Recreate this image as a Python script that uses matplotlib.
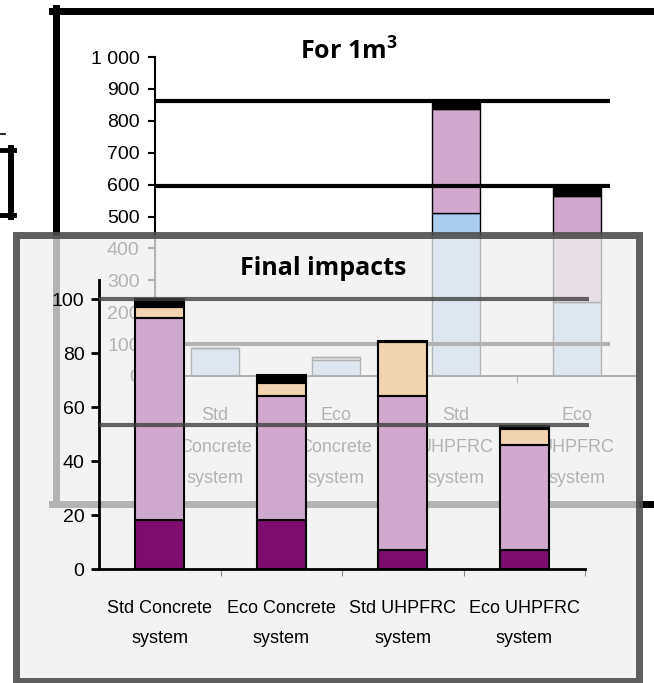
import matplotlib
matplotlib.use('Agg')
from matplotlib import pyplot as plt
from matplotlib.lines import Line2D
from matplotlib.patches import Rectangle

W, H = 654, 683

# pixel -> figure fraction
def fx(x):
    return x / W

def fy(y):
    return 1 - y / H

systems = ['Std Concrete\nsystem', 'Eco Concrete\nsystem', 'Std UHPFRC\nsystem', 'Eco UHPFRC\nsystem']
back_labels = ['Std\nConcrete\nsystem', 'Eco\nConcrete\nsystem', 'Std\nUHPFRC\nsystem', 'Eco\nUHPFRC\nsystem']

# back chart: for 1 m3
m3_blue = [87, 50, 510, 231]
m3_pink = [2, 9, 327, 332]
m3_black = [0, 0, 27, 31]
m3_lines = [100, 597, 863]
m3_ticks = list(range(0, 1001, 100))
m3_ticklabels = ['0', '100', '200', '300', '400', '500', '600', '700', '800', '900', '1 000']

# front chart: final impacts
fi_dark = [18, 18, 7, 7]
fi_pink = [75, 46, 57, 39]
fi_peach = [4, 5, 20, 6]
fi_black = [3, 3, 0.6, 1]
fi_lines = [53.5, 100]
fi_ticks = [0, 20, 40, 60, 80, 100]

c_blue = '#a9cdf0'
c_pink = '#d1a9cc'
c_peach = '#f3d4b0'
c_dark = '#7d0d6e'

boldf = ['Open Sans', 'DejaVu Sans']
plt.rcParams['font.family'] = ['Liberation Sans', 'DejaVu Sans']
plt.rcParams['mathtext.fontset'] = 'custom'
plt.rcParams['mathtext.bf'] = 'Open Sans:bold'

fig = plt.figure(figsize=(W / 100, H / 100), dpi=100)
fig.patch.set_facecolor('white')

# ---- back frame bits (behind everything)
fig.add_artist(Line2D([fx(52), 1.0], [fy(11), fy(11)], color='black', lw=5, zorder=0.5))
fig.add_artist(Line2D([fx(55.5), fx(55.5)], [fy(8), fy(503.5)], color='black', lw=5, zorder=0.5))
fig.add_artist(Line2D([fx(52), 1.0], [fy(503.5), fy(503.5)], color='black', lw=5, zorder=0.5))
fig.add_artist(Line2D([0, fx(13.5)], [fy(150), fy(150)], color='black', lw=3.5, zorder=0.5))
fig.add_artist(Line2D([fx(11), fx(11)], [fy(148), fy(217)], color='black', lw=4.3, zorder=0.5))
fig.add_artist(Line2D([0, fx(13.5)], [fy(215), fy(215)], color='black', lw=3.5, zorder=0.5))
fig.add_artist(Line2D([0, fx(5)], [fy(134), fy(134)], color='black', lw=1.2, zorder=0.5))

# ---- back chart
ax1 = fig.add_axes([fx(155), fy(376), (637 - 155) / W, (376 - 57) / H], zorder=1)
ax1.patch.set_visible(False)
x = range(len(systems))
ax1.bar(x, m3_blue, 0.4, color=c_blue, edgecolor='black', lw=1)
ax1.bar(x, m3_pink, 0.4, bottom=m3_blue, color=c_pink, edgecolor='black', lw=1)
b2 = [a + b for a, b in zip(m3_blue, m3_pink)]
ax1.bar(x, m3_black, 0.4, bottom=b2, color='black', edgecolor='black', lw=1)
ax1.hlines(m3_lines, -0.5, 3.28, color='black', lw=3)
ax1.set_xlim(-0.5, 3.5)
ax1.set_ylim(0, 1000)
for s in ['top', 'right']:
    ax1.spines[s].set_visible(False)
ax1.spines['left'].set_linewidth(1.5)
ax1.spines['bottom'].set_linewidth(1.5)
ax1.set_yticks(m3_ticks)
ax1.set_yticklabels(m3_ticklabels, fontsize=14)
ax1.tick_params(axis='y', length=5, width=1.5, pad=6)
ax1.set_xticks([0.5, 1.5, 2.5])
ax1.set_xticklabels([])
ax1.tick_params(axis='x', length=5, width=0.8)
ax1.set_xticks(range(4), minor=True)
ax1.set_xticklabels(back_labels, minor=True, fontsize=13, linespacing=2.15)
ax1.tick_params(axis='x', which='minor', length=0, pad=22)
fig.text(fx(300), fy(60), r'For 1m$^{\mathbf{3}}$', family=boldf, fontweight='bold',
         fontsize=18, va='baseline', zorder=1)

# ---- translucent overlay box
fig.add_artist(Rectangle((fx(16), fy(681)), (639 - 16) / W, (681 - 234.5) / H,
                         transform=fig.transFigure, facecolor=(0.94, 0.94, 0.94, 0.75),
                         edgecolor=(0.3, 0.3, 0.3, 0.9), lw=5, zorder=2))

# ---- front chart
ax2 = fig.add_axes([fx(99), fy(569), (585 - 99) / W, (569 - 280) / H], zorder=3)
ax2.patch.set_visible(False)
ax2.bar(x, fi_dark, 0.4, color=c_dark, edgecolor='black', lw=1.5)
ax2.bar(x, fi_pink, 0.4, bottom=fi_dark, color=c_pink, edgecolor='black', lw=1.5)
b1 = [a + b for a, b in zip(fi_dark, fi_pink)]
ax2.bar(x, fi_peach, 0.4, bottom=b1, color=c_peach, edgecolor='black', lw=1.5)
b2 = [a + b for a, b in zip(b1, fi_peach)]
ax2.bar(x, fi_black, 0.4, bottom=b2, color='black', edgecolor='black', lw=1.5)
ax2.hlines(fi_lines, -0.5, 3.53, color=(0.25, 0.25, 0.25, 0.8), lw=3, clip_on=False, zorder=4)
ax2.set_xlim(-0.5, 3.5)
ax2.set_ylim(0, (569 - 280) / 2.7)
for s in ['top', 'right']:
    ax2.spines[s].set_visible(False)
ax2.spines['left'].set_linewidth(2)
ax2.spines['bottom'].set_linewidth(2)
ax2.set_yticks(fi_ticks)
ax2.set_yticklabels([str(t) for t in fi_ticks], fontsize=14)
ax2.tick_params(axis='y', length=6, width=2, pad=4.5)
ax2.set_xticks([0.5, 1.5, 2.5, 3.5])
ax2.set_xticklabels([])
ax2.tick_params(axis='x', length=5, width=0.8, colors='#888888')
ax2.set_xticks(range(4), minor=True)
ax2.set_xticklabels(systems, minor=True, fontsize=13, linespacing=2.0)
ax2.tick_params(axis='x', which='minor', length=0, pad=22.5, colors='black')
fig.text(fx(323), fy(275), 'Final impacts', family=boldf, fontweight='bold', fontsize=18,
         ha='center', va='baseline', zorder=3)

plt.savefig('out.png', dpi=100)
